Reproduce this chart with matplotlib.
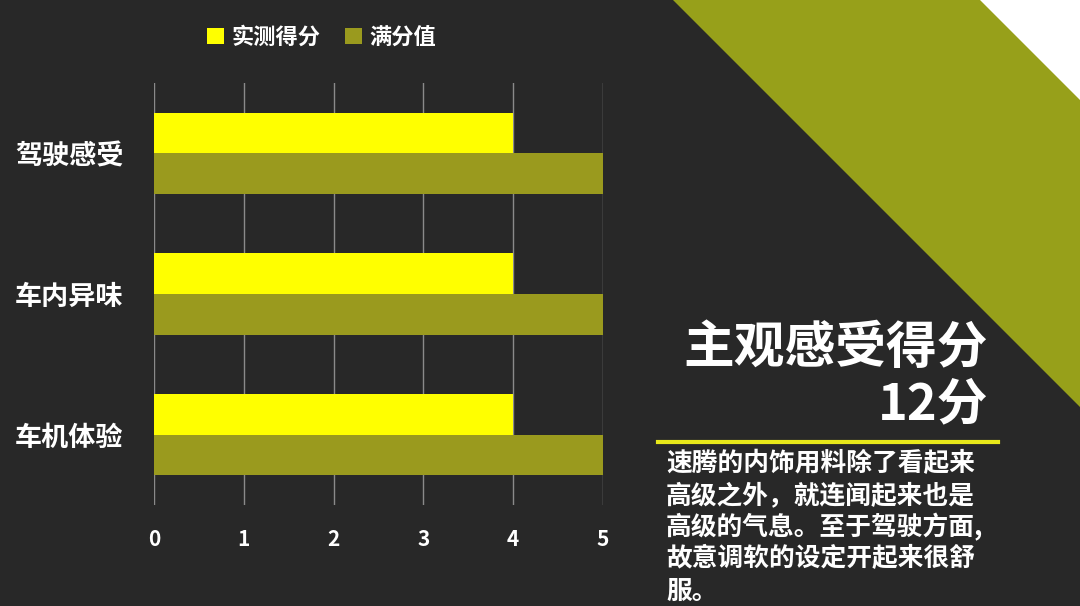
import matplotlib
matplotlib.use("Agg")
import matplotlib.pyplot as plt
from matplotlib.patches import Polygon, Patch
import numpy as np

plt.rcParams['font.family'] = ['Noto Sans CJK SC', 'DejaVu Sans']

# ---- data ----
categories = ["车机体验", "车内异味", "驾驶感受"]   # bottom to top
actual_scores = [4, 4, 4]
full_scores = [5, 5, 5]
x_ticks = [0, 1, 2, 3, 4, 5]
series_names = ["实测得分", "满分值"]
title_text = "主观感受得分"
score_text = "12分"
body_lines = ["速腾的内饰用料除了看起来",
              "高级之外，就连闻起来也是",
              "高级的气息。至于驾驶方面,",
              "故意调软的设定开起来很舒",
              "服。"]

BG = "#282828"
YELLOW = "#ffff00"
OLIVE = "#9a9a1e"
TRI = "#97a01a"

W, H = 1080, 606
fig = plt.figure(figsize=(W / 100, H / 100), dpi=100, facecolor=BG)

def fx(px):
    return px / W

def fy(py):
    return 1 - py / H

# decorative triangles
fig.patches.append(Polygon([(fx(673), fy(0)), (fx(1080), fy(0)), (fx(1080), fy(407))],
                           closed=True, transform=fig.transFigure, facecolor=TRI,
                           edgecolor="none", zorder=0))
fig.patches.append(Polygon([(fx(980), fy(0)), (fx(1080), fy(0)), (fx(1080), fy(100))],
                           closed=True, transform=fig.transFigure, facecolor="white",
                           edgecolor="none", zorder=0))

# chart axes
ax = fig.add_axes([fx(154), fy(505), fx(603) - fx(154), fy(83) - fy(505)])
ax.set_facecolor("none")
y = np.arange(len(categories))
h = 0.288
ax.barh(y + h / 2, actual_scores, height=h, color=YELLOW, zorder=3)
ax.barh(y - h / 2, full_scores, height=h, color=OLIVE, zorder=3)
ax.set_xlim(0, 5)
ax.set_ylim(-0.5, len(categories) - 0.5)
ax.set_xticks(x_ticks)
ax.set_xticklabels([str(t) for t in x_ticks])
ax.set_yticks(y)
ax.set_yticklabels(categories)
ax.grid(axis="x", color="#8a8a8a", linewidth=1.0, zorder=1)
ax.grid(axis="y", visible=False)
for s in ax.spines.values():
    s.set_visible(False)
ax.tick_params(axis="x", length=0, pad=17, labelsize=15, labelcolor="white")
ax.tick_params(axis="y", length=0, pad=22, labelsize=19.5, labelcolor="white")
for lab in ax.get_yticklabels() + ax.get_xticklabels():
    lab.set_fontweight("bold")

# legend
handles = [Patch(facecolor=YELLOW, edgecolor="none"), Patch(facecolor=OLIVE, edgecolor="none")]
leg = fig.legend(handles, series_names, loc="center", bbox_to_anchor=(fx(322), fy(37)),
                 ncol=2, frameon=False, handlelength=0.75, handleheight=0.75,
                 handletextpad=0.35, columnspacing=1.1,
                 prop={"size": 16, "weight": "bold"})
for t in leg.get_texts():
    t.set_color("white")

# right text block
fig.text(fx(988), fy(349), title_text, ha="right", va="center", color="white",
         fontsize=36.5, fontweight="bold")
fig.text(fx(988), fy(405), score_text, ha="right", va="center", color="white",
         fontsize=36.5, fontweight="bold")
fig.add_artist(plt.Line2D([fx(658), fx(998)], [fy(442), fy(442)], transform=fig.transFigure,
                          color="#e8e81a", linewidth=3))
ys = [464, 496, 527, 559, 591]
for line, yy in zip(body_lines, ys):
    fig.text(fx(666), fy(yy), line, ha="left", va="center", color="white",
             fontsize=18.5, fontweight="bold")

fig.savefig("out.png", dpi=100, facecolor=BG)
